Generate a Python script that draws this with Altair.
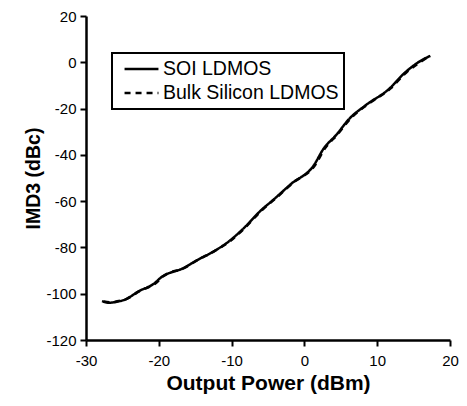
import altair as alt
import pandas as pd

# SOI LDMOS
soi_x = [-27.8, -26.8, -25.5, -24.6, -22.8, -20.6, -19.7, -16.6, -14.8, -12.5, -10.3, -8.5,
         -5.9, -4.3, -1.8, 1.3, 2.6, 4.4, 6.2, 8.4, 11.6, 13.8, 15.5, 17.3]
soi_y = [-103.2, -103.9, -103.3, -102.5, -99.0, -95.5, -93.0, -88.9, -85.6, -81.8, -77.2, -72.2,
         -63.8, -59.5, -52.5, -44.5, -37.5, -31.3, -24.3, -18.6, -11.6, -4.5, -0.3, 2.8]
# Bulk Silicon LDMOS
bulk_x = [-27.6, -26.5, -25.3, -24.4, -22.6, -20.4, -19.5, -16.4, -14.6, -12.3, -10.1, -8.3,
          -5.7, -4.1, -1.6, 1.5, 2.8, 4.6, 6.4, 8.6, 11.8, 14.0, 15.7, 17.1]
bulk_y = [-103.4, -103.7, -103.0, -102.2, -98.8, -95.4, -92.7, -88.7, -85.3, -81.5, -77.0, -71.9,
          -63.5, -59.2, -52.2, -44.3, -37.3, -31.0, -24.1, -18.4, -11.4, -4.4, -0.4, 2.6]

series = ["SOI LDMOS", "Bulk Silicon LDMOS"]
x_ticks = [-30, -20, -10, 0, 10, 20]
y_ticks = [20, 0, -20, -40, -60, -80, -100, -120]

df = pd.concat([
    pd.DataFrame({"power": soi_x, "imd3": soi_y, "series": series[0], "order": range(len(soi_x))}),
    pd.DataFrame({"power": bulk_x, "imd3": bulk_y, "series": series[1], "order": range(len(bulk_x))}),
])

FONT = "Liberation Sans"

chart = alt.Chart(df).mark_line(strokeWidth=2.5, interpolate="monotone").encode(
    x=alt.X("power:Q", scale=alt.Scale(domain=[-30, 20], nice=False),
            axis=alt.Axis(values=x_ticks, title="Output Power (dBm)", grid=False,
                          labelFlush=False, labelPadding=7, labelExpr="toString(datum.value)",
                          titleFontSize=21, titleY=49, titleBaseline="alphabetic")),
    y=alt.Y("imd3:Q", scale=alt.Scale(domain=[-120, 20], nice=False),
            axis=alt.Axis(values=y_ticks, title="IMD3 (dBc)", grid=False,
                          labelFlush=False, labelPadding=4, labelExpr="toString(datum.value)",
                          titleFontSize=19.5, titleX=-43)),
    color=alt.Color("series:N", scale=alt.Scale(domain=series, range=["black", "black"]),
                    legend=alt.Legend(title=None, orient="none", legendX=26, legendY=37,
                                      symbolType="stroke", symbolSize=1150, symbolStrokeWidth=2.5,
                                      clipHeight=22, labelLimit=300,
                                      labelFontSize=19.5, labelFont=FONT, labelColor="black",
                                      padding=5, symbolOffset=6, labelOffset=3, rowPadding=2,
                                      fillColor="white", strokeColor="black")),
    strokeDash=alt.StrokeDash("series:N", scale=alt.Scale(domain=series, range=[[1, 0], [6, 5]]),
                              legend=None),
    order="order:Q",
).properties(
    width=364, height=324,
    padding={"left": 78, "top": 8, "right": 9, "bottom": 58},
    autosize=alt.AutoSizeParams(type="none"),
).configure_view(
    stroke=None
).configure_axis(
    domainColor="black", domainWidth=2.5, tickColor="black", tickWidth=2, tickSize=6,
    labelFont=FONT, labelFontSize=15, labelColor="black",
    titleFont=FONT, titleFontWeight="bold", titleColor="black",
).configure_legend(
    strokeWidth=2
)

chart.save("out.html", embed_options={"renderer": "svg", "actions": False})
